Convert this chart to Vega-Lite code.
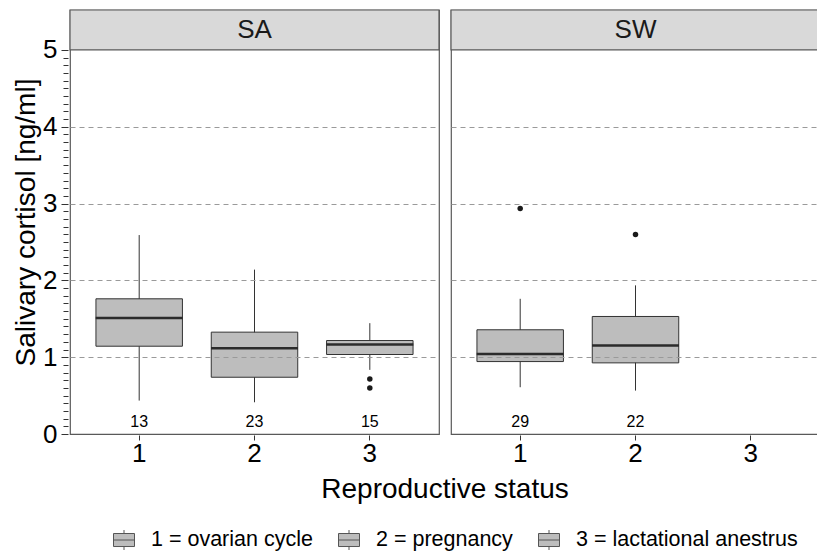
{
  "$schema": "https://vega.github.io/schema/vega-lite/v6.json",
  "padding": {"left": 12, "top": 8, "right": 0, "bottom": 0},
  "config": {
    "font": "Liberation Sans",
    "view": {"stroke": "#595959", "strokeWidth": 1.2},
    "background": "white"
  },
  "data": {
    "values": [
      {"type": "box", "panel": "SA", "status": "1", "lower": 0.435, "q1": 1.143, "median": 1.51, "q3": 1.76, "upper": 2.59, "n": 13},
      {"type": "box", "panel": "SA", "status": "2", "lower": 0.413, "q1": 0.739, "median": 1.117, "q3": 1.326, "upper": 2.14, "n": 23},
      {"type": "box", "panel": "SA", "status": "3", "lower": 0.835, "q1": 1.035, "median": 1.165, "q3": 1.217, "upper": 1.443, "n": 15},
      {"type": "box", "panel": "SW", "status": "1", "lower": 0.609, "q1": 0.943, "median": 1.043, "q3": 1.357, "upper": 1.76, "n": 29},
      {"type": "box", "panel": "SW", "status": "2", "lower": 0.565, "q1": 0.926, "median": 1.152, "q3": 1.53, "upper": 1.935, "n": 22},
      {"type": "out", "panel": "SA", "status": "3", "value": 0.717},
      {"type": "out", "panel": "SA", "status": "3", "value": 0.6},
      {"type": "out", "panel": "SW", "status": "1", "value": 2.935},
      {"type": "out", "panel": "SW", "status": "2", "value": 2.596},
      {"type": "strip", "panel": "SA"},
      {"type": "strip", "panel": "SW"}
    ]
  },
  "facet": {
    "column": {
      "field": "panel",
      "type": "nominal",
      "sort": ["SA", "SW"],
      "header": {
        "title": "Reproductive status",
        "titleOrient": "bottom",
        "labels": false,
        "titleFontSize": 28,
        "titleFontWeight": "normal",
        "titleColor": "#000000",
        "titlePadding": 0
      }
    }
  },
  "spacing": 8,
  "spec": {
    "width": 369,
    "height": 424,
    "layer": [
      {
        "transform": [{"filter": "datum.type === 'box'"}],
        "mark": {"type": "rule", "color": "#333333", "strokeWidth": 1},
        "encoding": {
          "x": {
            "field": "status",
            "type": "nominal",
            "scale": {"domain": ["1", "2", "3"], "paddingInner": 0.25, "paddingOuter": 0.225},
            "axis": {
              "title": null,
              "labelFontSize": 26,
              "labelColor": "#000000",
              "labelAngle": 0,
              "labelPadding": 0,
              "tickSize": 5,
              "tickColor": "#333333",
              "domain": false
            }
          },
          "y": {
            "field": "lower",
            "type": "quantitative",
            "scale": {"domain": [0, 5.52], "nice": false, "zero": false},
            "axis": {
              "title": "Salivary cortisol [ng/ml]",
              "titleFontSize": 28,
              "titleFontWeight": "normal",
              "titleColor": "#000000",
              "titlePadding": 2,
              "values": [0,0.1,0.2,0.3,0.4,0.5,0.6,0.7,0.8,0.9,1,1.1,1.2,1.3,1.4,1.5,1.6,1.7,1.8,1.9,2,2.1,2.2,2.3,2.4,2.5,2.6,2.7,2.8,2.9,3,3.1,3.2,3.3,3.4,3.5,3.6,3.7,3.8,3.9,4,4.1,4.2,4.3,4.4,4.5,4.6,4.7,4.8,4.9,5],
              "tickCount": 200,
              "labelExpr": "abs(datum.value - round(datum.value)) < 0.001 ? format(datum.value, 'd') : ''",
              "labelOverlap": false,
              "labelFontSize": 26,
              "labelColor": "#000000",
              "labelPadding": 4,
              "tickColor": "#333333",
              "tickSize": {"condition": {"test": "abs(datum.value - round(datum.value)) < 0.001", "value": 7}, "value": 5},
              "domain": false,
              "grid": true,
              "gridColor": "#9a9a9a",
              "gridDash": [5, 4],
              "gridWidth": 1,
              "gridOpacity": {"condition": {"test": "datum.value > 0.5 && datum.value < 4.5 && abs(datum.value - round(datum.value)) < 0.001", "value": 1}, "value": 0},
              "zindex": 1
            }
          },
          "y2": {"field": "upper"}
        }
      },
      {
        "transform": [{"filter": "datum.type === 'box'"}],
        "mark": {"type": "bar", "stroke": "#333333", "strokeWidth": 1, "opacity": 1},
        "encoding": {
          "x": {"field": "status", "type": "nominal"},
          "y": {"field": "q1", "type": "quantitative"},
          "y2": {"field": "q3"},
          "fill": {
            "field": "status",
            "type": "nominal",
            "scale": {"domain": ["1", "2", "3"], "range": ["#bdbdbd", "#bdbdbd", "#bdbdbd"]},
            "legend": {
              "title": null,
              "orient": "none",
              "legendX": 43,
              "legendY": 519,
              "direction": "horizontal",
              "labelExpr": "datum.label == '1' ? '1 = ovarian cycle' : datum.label == '2' ? '2 = pregnancy' : '3 = lactational anestrus'",
              "labelFontSize": 21.5,
              "labelColor": "#000000",
              "labelLimit": 400,
              "symbolType": "M-1,-0.62H1V0.62H-1Z M0,-0.95V-0.62 M0,0.62V0.95 M-1,0H1",
              "symbolSize": 441,
              "symbolStrokeColor": "#555555",
              "symbolStrokeWidth": 1,
              "symbolFillColor": "#bdbdbd",
              "columnPadding": 23,
              "labelOffset": 16
            }
          }
        }
      },
      {
        "transform": [{"filter": "datum.type === 'box'"}],
        "mark": {"type": "tick", "color": "#2b2b2b", "thickness": 2.5, "size": 87, "opacity": 1},
        "encoding": {
          "x": {"field": "status", "type": "nominal"},
          "y": {"field": "median", "type": "quantitative"}
        }
      },
      {
        "transform": [{"filter": "datum.type === 'out'"}],
        "mark": {"type": "circle", "color": "#1a1a1a", "opacity": 1, "size": 30},
        "encoding": {
          "x": {"field": "status", "type": "nominal"},
          "y": {"field": "value", "type": "quantitative"}
        }
      },
      {
        "transform": [{"filter": "datum.type === 'box'"}],
        "mark": {"type": "text", "fontSize": 16, "color": "#000000", "baseline": "middle"},
        "encoding": {
          "x": {"field": "status", "type": "nominal"},
          "y": {"datum": 0.155},
          "text": {"field": "n", "type": "nominal"}
        }
      },
      {
        "transform": [{"filter": "datum.type === 'strip'"}],
        "mark": {"type": "rect", "fill": "#d9d9d9", "stroke": "#595959", "strokeWidth": 1.2},
        "encoding": {
          "y": {"datum": 5},
          "y2": {"datum": 5.52}
        }
      },
      {
        "transform": [{"filter": "datum.type === 'strip'"}],
        "mark": {"type": "text", "fontSize": 26, "color": "#1a1a1a", "baseline": "middle"},
        "encoding": {
          "y": {"datum": 5.26},
          "text": {"field": "panel", "type": "nominal"}
        }
      }
    ]
  }
}
